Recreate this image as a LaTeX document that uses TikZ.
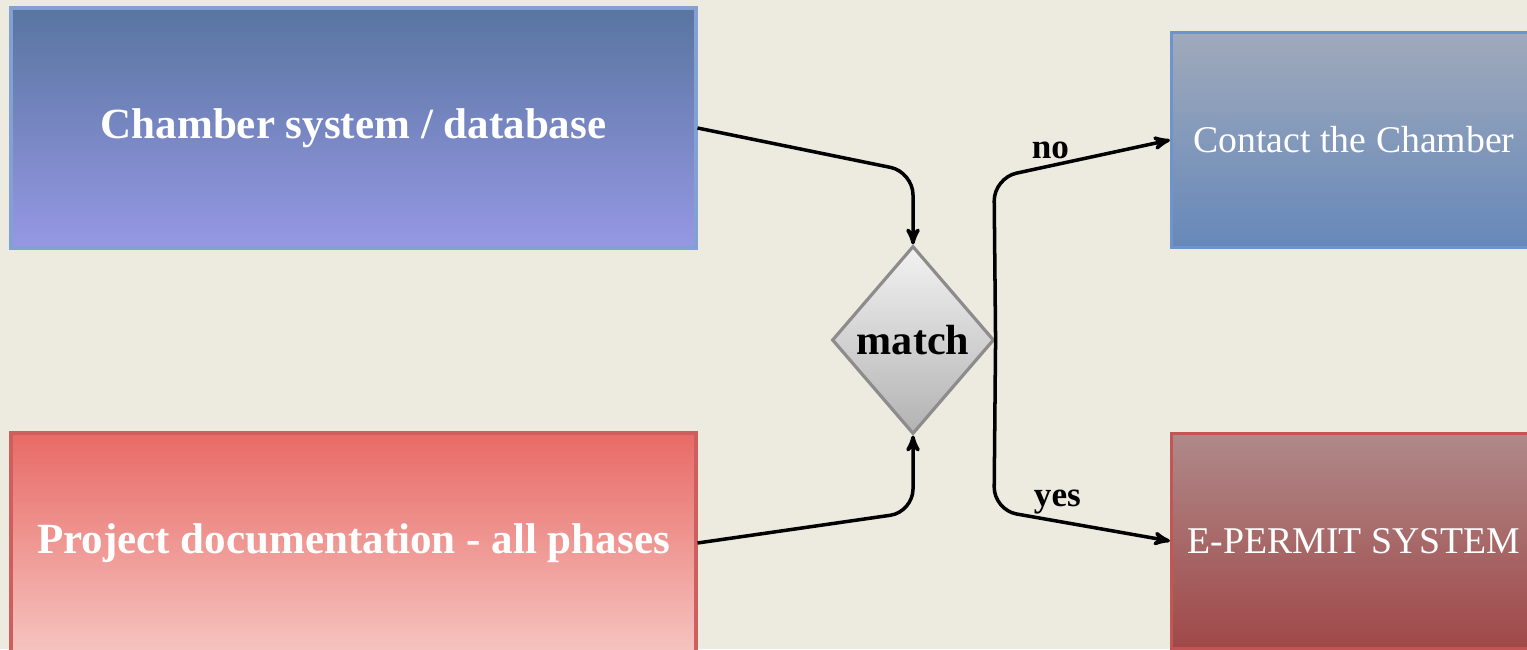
\documentclass[tikz,border=0pt]{standalone}
\usepackage{fontspec}
\setmainfont{Liberation Serif}
\usetikzlibrary{shapes.geometric,arrows}

\definecolor{paper}{RGB}{237,235,224}
\definecolor{chamTop}{RGB}{88,117,160}
\definecolor{chamBot}{RGB}{150,152,228}
\definecolor{chamLine}{RGB}{130,160,210}
\definecolor{projTop}{RGB}{232,106,102}
\definecolor{projBot}{RGB}{246,196,192}
\definecolor{projLine}{RGB}{205,95,95}
\definecolor{contTop}{RGB}{160,170,186}
\definecolor{contBot}{RGB}{102,136,186}
\definecolor{contLine}{RGB}{110,148,205}
\definecolor{permTop}{RGB}{175,137,137}
\definecolor{permBot}{RGB}{160,72,72}
\definecolor{permLine}{RGB}{195,85,85}

\begin{document}
\begin{tikzpicture}[x=0.02cm,y=-0.02cm,>=stealth',
    link/.style={->,line width=2pt,rounded corners=13pt},
    srcbox/.style={rectangle,line width=1.8pt,text=white,
        minimum width=13.7cm,font=\fontsize{24.5}{28}\selectfont\bfseries},
    dstbox/.style={rectangle,line width=1.8pt,text=white,
        minimum width=7.3cm,minimum height=4.3cm,font=\fontsize{21.5}{26}\selectfont},
    answer/.style={font=\fontsize{20}{24}\selectfont\bfseries,inner sep=3pt}]

    % fond et cadre
    \useasboundingbox (0,0) rectangle (1527,649);
    \clip (0,0) rectangle (1527,649);
    \fill[paper] (0,0) rectangle (1527,649);

    % les boites
    \node[srcbox,draw=chamLine,top color=chamTop,bottom color=chamBot,minimum height=4.8cm]
        (chamber) at (353.5,128) {Chamber system / database};
    \node[srcbox,draw=projLine,top color=projTop,bottom color=projBot,minimum height=4.4cm]
        (project) at (353.5,543) {Project documentation - all phases};
    \node[dstbox,draw=contLine,top color=contTop,bottom color=contBot]
        (contact) at (1354,140) {Contact the Chamber};
    \node[dstbox,draw=permLine,top color=permTop,bottom color=permBot]
        (permit) at (1354,541) {E-PERMIT SYSTEM};
    \node[diamond,draw=gray!90,line width=1.8pt,top color=gray!10,bottom color=gray!60,
        minimum width=3.24cm,minimum height=3.76cm,inner sep=0pt,
        font=\fontsize{24}{28}\selectfont\bfseries] (match) at (913,340) {match};

    % points de coude
    \coordinate (inA)  at (913,172);
    \coordinate (inB)  at (913,512);
    \coordinate (outN) at (994,178);
    \coordinate (outY) at (994,510);

    % les fleches
    \draw[link] (chamber.east) -- (inA) -- (match.north);
    \draw[link] (project.east) -- (inB) -- (match.south);
    \draw[link] (match.east) -- (outN) -- node[answer,pos=0.32,above] (no) {no} (contact.west);
    \draw[link] (match.east) -- (outY) -- node[answer,pos=0.36,above] (yes) {yes} (permit.west);

\end{tikzpicture}
\end{document}
